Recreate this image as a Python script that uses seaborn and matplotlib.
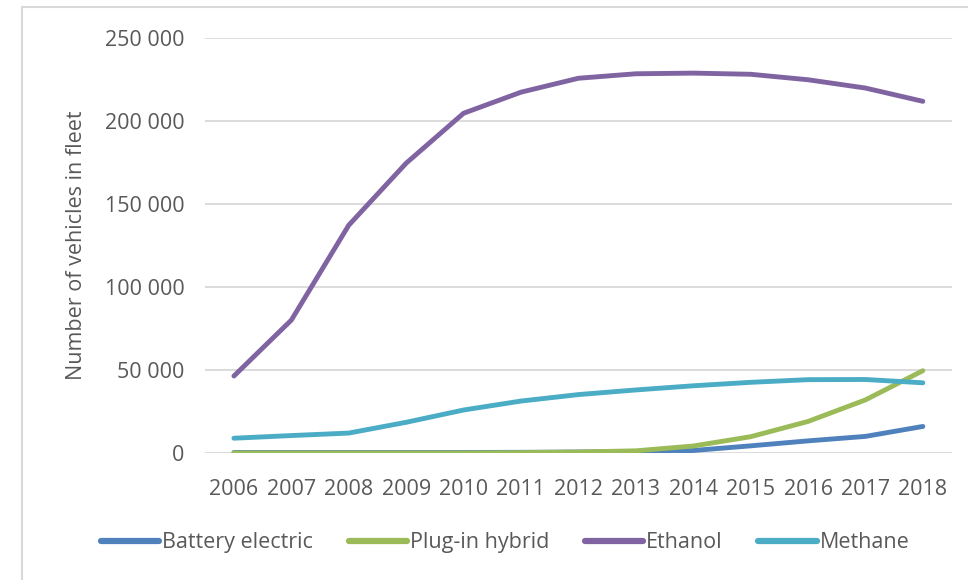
import pandas as pd
import seaborn as sns
import matplotlib.pyplot as plt
from matplotlib.lines import Line2D
from matplotlib.ticker import FuncFormatter

# data
years = [2006, 2007, 2008, 2009, 2010, 2011, 2012, 2013, 2014, 2015, 2016, 2017, 2018]
battery_electric = [300, 300, 300, 300, 300, 400, 600, 900, 1500, 4300, 7300, 10000, 16000]
plug_in_hybrid = [0, 0, 0, 0, 0, 200, 600, 1300, 4200, 9800, 19000, 32000, 49600]
ethanol = [46400, 80100, 137300, 174700, 204800, 217500, 225900, 228600, 229000, 228300, 225000, 220000, 212000]
methane = [8900, 10500, 12000, 18500, 25900, 31300, 35200, 38000, 40500, 42600, 44200, 44300, 42300]

series = ['Battery electric', 'Plug-in hybrid', 'Ethanol', 'Methane']
colors = ['#4F81BD', '#9BBB59', '#8064A2', '#4BACC6']

df = pd.DataFrame({
    'Year': years * 4,
    'Vehicles': battery_electric + plug_in_hybrid + ethanol + methane,
    'Type': [s for s in series for _ in years],
})

sns.set_style('white')
plt.rcParams['font.family'] = ['Open Sans', 'DejaVu Sans']
text_color = '#595959'

fig = plt.figure(figsize=(9.68, 5.8), dpi=100)
ax = fig.add_axes([0.212, 0.219, 0.771, 0.715])

sns.lineplot(data=df, x='Year', y='Vehicles', hue='Type', palette=colors,
             linewidth=3.5, ax=ax, legend=False)
for line in ax.lines:
    line.set_solid_capstyle('round')

ax.set_xlim(2005.5, 2018.5)
ax.set_ylim(0, 250000)
ax.set_xticks(years)
ax.set_yticks(range(0, 250001, 50000))
ax.yaxis.set_major_formatter(FuncFormatter(lambda v, p: f'{int(v):,}'.replace(',', ' ')))
ax.tick_params(axis='both', labelsize=15.5, colors=text_color, length=0)
ax.tick_params(axis='x', pad=19)
ax.tick_params(axis='y', pad=15)
ax.grid(axis='y', color='#D9D9D9', linewidth=1.3)
for sp in ax.spines.values():
    sp.set_visible(False)
ax.set_xlabel('')
ax.set_ylabel('Number of vehicles in fleet', fontsize=15.5, color=text_color, labelpad=13)

handles = [Line2D([0], [0], color=c, linewidth=4.5, solid_capstyle='round') for c in colors]
fig.legend(handles, series, loc='center', bbox_to_anchor=(0.522, 0.064), ncol=4,
           frameon=False, fontsize=15.5, labelcolor=text_color, handlelength=2.7,
           handletextpad=0.15, columnspacing=1.65)

# outer chart frame (left and top edges only visible)
fig.add_artist(Line2D([0.0227, 0.0227], [0, 0.988], transform=fig.transFigure,
                      color='#D9D9D9', linewidth=1.5))
fig.add_artist(Line2D([0.0227, 1.0], [0.988, 0.988], transform=fig.transFigure,
                      color='#D9D9D9', linewidth=1.5))

plt.savefig('out.png', dpi=100)
